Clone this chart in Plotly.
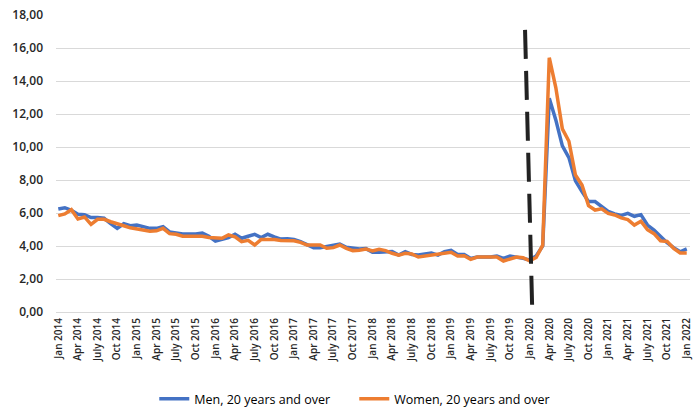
import plotly.graph_objects as go

month_names = ["Jan", "Feb", "Mar", "Apr", "May", "June", "July", "Aug", "Sep", "Oct", "Nov", "Dec"]
months = [f"{month_names[m]} {y}" for y in range(2014, 2022) for m in range(12)] + ["Jan 2022"]
tick_labels = months[::3]

men = [6.24, 6.32, 6.16, 5.92, 5.90, 5.72, 5.72, 5.68, 5.35, 5.07, 5.35, 5.23,
       5.27, 5.15, 5.07, 5.07, 5.17, 4.85, 4.77, 4.73, 4.73, 4.73, 4.79, 4.59,
       4.30, 4.38, 4.51, 4.71, 4.47, 4.59, 4.71, 4.51, 4.71, 4.55, 4.42, 4.44,
       4.40, 4.26, 4.06, 3.90, 3.90, 3.96, 4.02, 4.12, 3.92, 3.86, 3.82, 3.84,
       3.62, 3.62, 3.62, 3.66, 3.45, 3.66, 3.49, 3.45, 3.52, 3.58, 3.45, 3.66,
       3.74, 3.49, 3.49, 3.25, 3.33, 3.33, 3.33, 3.39, 3.25, 3.39, 3.33, 3.25,
       3.15, 3.40, 4.00, 12.95, 11.64, 10.07, 9.36, 7.95, 7.30, 6.69, 6.69, 6.38,
       6.10, 5.95, 5.85, 5.98, 5.80, 5.90, 5.27, 4.97, 4.56, 4.20, 3.90, 3.65,
       3.82]

women = [5.84, 5.94, 6.20, 5.64, 5.76, 5.31, 5.62, 5.62, 5.47, 5.37, 5.23, 5.10,
         5.03, 4.95, 4.90, 4.92, 5.07, 4.75, 4.71, 4.59, 4.59, 4.59, 4.59, 4.51,
         4.47, 4.47, 4.67, 4.55, 4.26, 4.34, 4.06, 4.40, 4.40, 4.40, 4.34, 4.32,
         4.32, 4.22, 4.06, 4.06, 4.06, 3.86, 3.90, 4.06, 3.86, 3.72, 3.74, 3.82,
         3.70, 3.80, 3.72, 3.56, 3.45, 3.56, 3.52, 3.33, 3.39, 3.45, 3.49, 3.56,
         3.62, 3.39, 3.41, 3.19, 3.33, 3.33, 3.33, 3.33, 3.09, 3.21, 3.33, 3.29,
         3.10, 3.30, 4.05, 15.41, 13.60, 11.10, 10.35, 8.30, 7.70, 6.45, 6.18, 6.25,
         5.98, 5.88, 5.70, 5.60, 5.27, 5.50, 4.99, 4.75, 4.31, 4.28, 3.86, 3.58,
         3.58]

series_names = ["Men, 20 years and over", "Women, 20 years and over"]
colors = ["#4472C4", "#ED7D31"]

# marker line for the start of the pandemic (slightly slanted, as drawn)
mark_top = ("Dec 2019", 17.1)
mark_bottom = ("Jan 2020", 0.1)

fig = go.Figure()
for name, vals, col in zip(series_names, [men, women], colors):
    fig.add_trace(go.Scatter(x=months, y=vals, mode="lines", name=name,
                             line=dict(color=col, width=3.5)))

i_top = months.index(mark_top[0]) + 0.3
i_bot = months.index(mark_bottom[0]) + 0.4
fig.add_shape(type="line", xref="x", yref="y", x0=i_top, y0=mark_top[1], x1=i_bot, y1=mark_bottom[1],
              line=dict(color="#222222", width=4, dash="29px,12px"), layer="above")

ytick_font = dict(family="Open Sans", size=12, color="#262626", weight=600)
xtick_font = dict(family="Open Sans", size=10, color="#262626", weight=600)
fig.update_layout(
    width=693, height=412,
    margin=dict(l=56, r=3, t=15, b=100, autoexpand=False),
    paper_bgcolor="white", plot_bgcolor="white",
    separators=", ",
    showlegend=True,
    legend=dict(orientation="h", x=0.155, xanchor="left", y=-0.293, yanchor="middle",
                font=dict(family="Open Sans", size=12.5, color="#000000"),
                itemwidth=30, entrywidth=155, bgcolor="rgba(0,0,0,0)"),
    xaxis=dict(type="category", categoryorder="array", categoryarray=months,
               tickmode="array", tickvals=tick_labels, ticktext=tick_labels,
               tickangle=-90, tickfont=xtick_font, showgrid=False, showline=False,
               ticks="", range=[-0.35, 96.5], zeroline=False, automargin=False,
               ticklabeloverflow="allow", ticklabelstandoff=3),
    yaxis=dict(range=[0, 18], dtick=2, tickformat=".2f", tickfont=ytick_font,
               showgrid=True, gridcolor="#D9D9D9", gridwidth=1, zeroline=True,
               zerolinecolor="#D9D9D9", zerolinewidth=1, showline=False, ticks="",
               ticklabelstandoff=12, automargin=False),
)

fig.write_html("out.html", config={"displayModeBar": False},
               post_script="document.body.style.margin='0';document.body.style.overflow='hidden';")
